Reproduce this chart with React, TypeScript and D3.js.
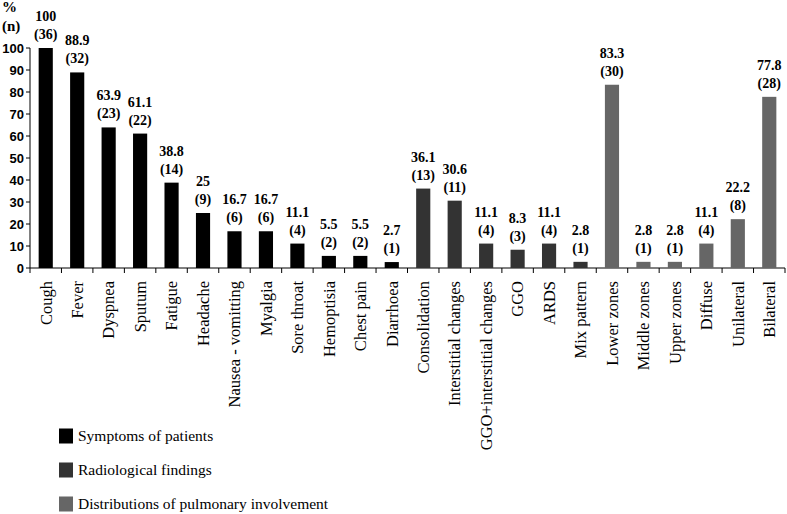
import React from "react";
import * as d3 from "d3";

const symptoms = ["Cough", "Fever", "Dyspnea", "Sputum", "Fatigue", "Headache", "Nausea - vomitting", "Myalgia", "Sore throat", "Hemoptisia", "Chest pain", "Diarrhoea"];
const symptomPct = [100, 88.9, 63.9, 61.1, 38.8, 25, 16.7, 16.7, 11.1, 5.5, 5.5, 2.7];
const symptomN = [36, 32, 23, 22, 14, 9, 6, 6, 4, 2, 2, 1];

const radiology = ["Consolidation", "Interstitial changes", "GGO+interstitial changes", "GGO", "ARDS", "Mix pattern"];
const radiologyPct = [36.1, 30.6, 11.1, 8.3, 11.1, 2.8];
const radiologyN = [13, 11, 4, 3, 4, 1];

const distribution = ["Lower zones", "Middle zones", "Upper zones", "Diffuse", "Unilateral", "Bilateral"];
const distributionPct = [83.3, 2.8, 2.8, 11.1, 22.2, 77.8];
const distributionN = [30, 1, 1, 4, 8, 28];

const groupNames = ["Symptoms of patients", "Radiological findings", "Distributions of pulmonary involvement"];
const groupColors = ["#000000", "#333333", "#666666"];
const yTicks = [0, 10, 20, 30, 40, 50, 60, 70, 80, 90, 100];

type Row = { cat: string; pct: number; n: number; g: number };
const rows: Row[] = [
  ...symptoms.map((c, i) => ({ cat: c, pct: symptomPct[i], n: symptomN[i], g: 0 })),
  ...radiology.map((c, i) => ({ cat: c, pct: radiologyPct[i], n: radiologyN[i], g: 1 })),
  ...distribution.map((c, i) => ({ cat: c, pct: distributionPct[i], n: distributionN[i], g: 2 })),
];

const SERIF = "'Liberation Serif', 'Times New Roman', serif";
const SANS = "'Liberation Sans', Arial, sans-serif";

export default function App() {
  const W = 787, H = 514;
  const x0 = 30, x1 = 785, yTop = 48, yBot = 268;
  const x = d3.scaleBand<string>().domain(rows.map(r => r.cat)).range([x0, x1]).paddingInner(0.55).paddingOuter(0.275);
  const xb = d3.scaleBand<string>().domain(rows.map(r => r.cat)).range([x0, x1]);
  const y = d3.scaleLinear().domain([0, 100]).range([yBot, yTop]);
  const bw = x.bandwidth();

  return (
    <svg width={W} height={H} style={{ position: "absolute", left: 0, top: 0, background: "#fff" }}>
      {/* Y axis */}
      <line x1={x0} x2={x0} y1={yTop} y2={yBot} stroke="#000" strokeWidth={1} />
      {yTicks.map(t => (
        <g key={t}>
          <line x1={x0 - 4} x2={x0} y1={y(t)} y2={y(t)} stroke="#000" />
          <text x={x0 - 6} y={y(t)} dy="0.36em" textAnchor="end" fontFamily={SANS} fontWeight="bold" fontSize={13}>{t}</text>
        </g>
      ))}
      <text x={2} y={12} fontFamily={SERIF} fontWeight="bold" fontSize={15}>%</text>
      <text x={2} y={31} fontFamily={SERIF} fontWeight="bold" fontSize={15}>(n)</text>

      {/* X axis */}
      <line x1={x0} x2={x1} y1={yBot} y2={yBot} stroke="#000" />
      {rows.map((r, i) => (
        <line key={"t" + i} x1={(xb(r.cat) as number)} x2={(xb(r.cat) as number)} y1={yBot} y2={yBot + 5} stroke="#000" />
      ))}
      <line x1={x1} x2={x1} y1={yBot} y2={yBot + 5} stroke="#000" />

      {/* Bars */}
      {rows.map((r, i) => {
        const bx = x(r.cat) as number;
        const cx = bx + bw / 2;
        const top = y(r.pct);
        return (
          <g key={"b" + i}>
            <rect x={bx} y={top} width={bw} height={yBot - top} fill={groupColors[r.g]} />
            <text x={cx} y={top - 27} textAnchor="middle" fontFamily={SERIF} fontWeight="bold" fontSize={14}>{r.pct}</text>
            <text x={cx} y={top - 9} textAnchor="middle" fontFamily={SERIF} fontWeight="bold" fontSize={14}>({r.n})</text>
            <text transform={`translate(${cx},281) rotate(-90)`} dy="0.35em" textAnchor="end" fontFamily={SERIF} fontSize={16.5}>{r.cat}</text>
          </g>
        );
      })}

      {/* Legend */}
      {groupNames.map((g, i) => (
        <g key={"l" + i} transform={`translate(59,${436 + i * 34})`}>
          <rect x={0} y={-7.5} width={14} height={15} fill={groupColors[i]} />
          <text x={19} y={0} dy="0.35em" fontFamily={SERIF} fontSize={15.5}>{g}</text>
        </g>
      ))}
    </svg>
  );
}
